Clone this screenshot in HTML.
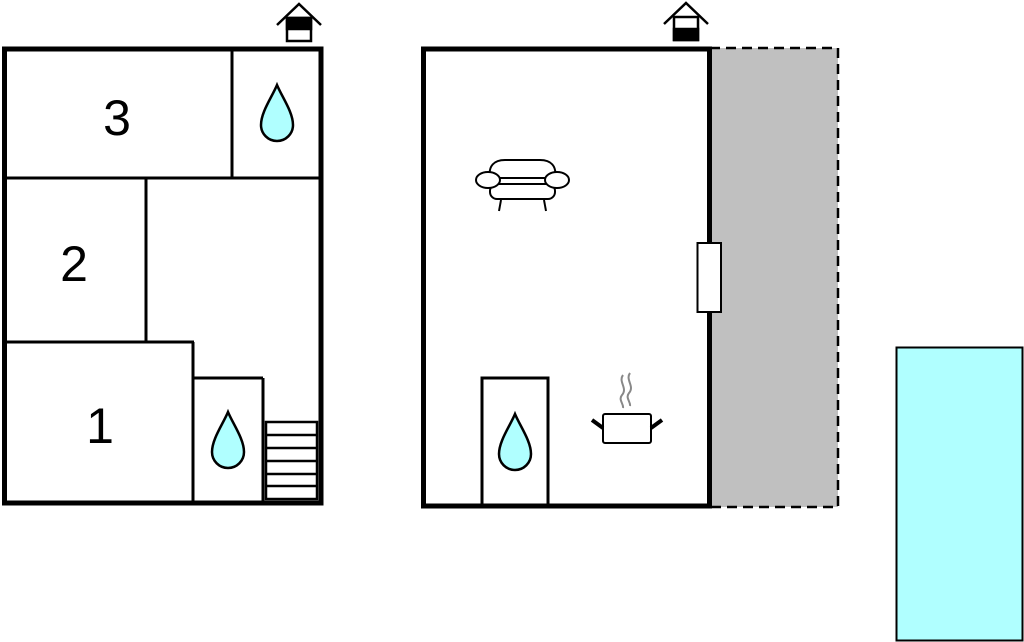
<!DOCTYPE html>
<html><head><meta charset="utf-8"><style>html,body{margin:0;padding:0;background:#fff;}svg{display:block}</style></head>
<body>
<svg width="1024" height="642" viewBox="0 0 1024 642" xmlns="http://www.w3.org/2000/svg" font-family="Liberation Sans, sans-serif">
<defs>
<path id="drop" d="M0,0 C-5,12 -16,27 -16,40 A16,16 0 0 0 16,40 C16,27 5,12 0,0 Z" fill="#b0ffff" stroke="#000" stroke-width="2.5"/>
</defs>
<!-- Left building -->
<g stroke="#000" fill="none">
<rect x="4.5" y="49" width="316.5" height="454" stroke-width="5" fill="#fff"/>
<line x1="4" y1="178" x2="321" y2="178" stroke-width="3"/>
<line x1="232" y1="49" x2="232" y2="178" stroke-width="3"/>
<line x1="146" y1="178" x2="146" y2="342" stroke-width="3"/>
<line x1="4" y1="342" x2="194" y2="342" stroke-width="3"/>
<line x1="193" y1="342" x2="193" y2="503" stroke-width="3"/>
<line x1="193" y1="378" x2="263" y2="378" stroke-width="3"/>
<line x1="263" y1="378" x2="263" y2="503" stroke-width="3"/>
<rect x="266" y="422" width="51" height="77" stroke-width="2.5"/>
<line x1="266" y1="435" x2="317" y2="435" stroke-width="2.5"/>
<line x1="266" y1="448" x2="317" y2="448" stroke-width="2.5"/>
<line x1="266" y1="461" x2="317" y2="461" stroke-width="2.5"/>
<line x1="266" y1="474" x2="317" y2="474" stroke-width="2.5"/>
<line x1="266" y1="486" x2="317" y2="486" stroke-width="2.5"/>
</g>
<use href="#drop" x="277" y="85"/>
<use href="#drop" x="228" y="412"/>
<text x="117" y="135" font-size="50" text-anchor="middle">3</text>
<text x="74" y="281" font-size="50" text-anchor="middle">2</text>
<text x="100" y="443" font-size="50" text-anchor="middle">1</text>
<!-- left house icon -->
<g stroke="#000" stroke-width="2.5" fill="none">
<polyline points="277,25 299,4 321,25"/>
<rect x="287" y="18" width="24" height="23" fill="#fff"/>
<rect x="287" y="18" width="24" height="11" fill="#000"/>
</g>
<!-- Right building -->
<rect x="710" y="48" width="128" height="459" fill="#c0c0c0" stroke="#000" stroke-width="2.5" stroke-dasharray="10,6"/>
<rect x="423.5" y="49" width="286" height="457" fill="#fff" stroke="#000" stroke-width="5"/>
<rect x="697.5" y="243" width="23.5" height="69" fill="#fff" stroke="#000" stroke-width="2"/>
<rect x="482" y="378" width="66" height="129" fill="none" stroke="#000" stroke-width="3"/>
<use href="#drop" x="515" y="414"/>
<!-- right house icon -->
<g stroke="#000" stroke-width="2.5" fill="none">
<polyline points="664,24 686,3 708,24"/>
<rect x="674" y="17" width="24" height="23" fill="#fff"/>
<rect x="674" y="29" width="24" height="11" fill="#000"/>
</g>
<!-- sofa -->
<g stroke="#000" stroke-width="2" fill="#fff">
<path d="M490,178 C488,166 494,160 505,160 L540,160 C551,160 557,166 555,178 Z"/>
<rect x="490" y="184" width="65" height="15" rx="7"/>
<ellipse cx="488" cy="180" rx="12" ry="8"/>
<ellipse cx="557" cy="180" rx="12" ry="8"/>
<line x1="501" y1="200" x2="499" y2="211"/>
<line x1="544" y1="200" x2="546" y2="211"/>
</g>
<!-- pot -->
<g fill="none">
<path d="M623,375 C618,382 628,388 622,395 C618,400 624,404 623,408" stroke="#888" stroke-width="2"/>
<path d="M630,373 C625,380 635,386 629,393 C625,398 631,402 630,406" stroke="#888" stroke-width="2"/>
<rect x="603" y="414" width="48" height="29" rx="2" stroke="#000" stroke-width="2" fill="#fff"/>
<line x1="592" y1="420" x2="603" y2="428" stroke="#000" stroke-width="4"/>
<line x1="651" y1="428" x2="662" y2="420" stroke="#000" stroke-width="4"/>
</g>
<!-- pool -->
<rect x="896.5" y="347.5" width="126" height="293" fill="#b0ffff" stroke="#000" stroke-width="2"/>
</svg>
</body></html>
